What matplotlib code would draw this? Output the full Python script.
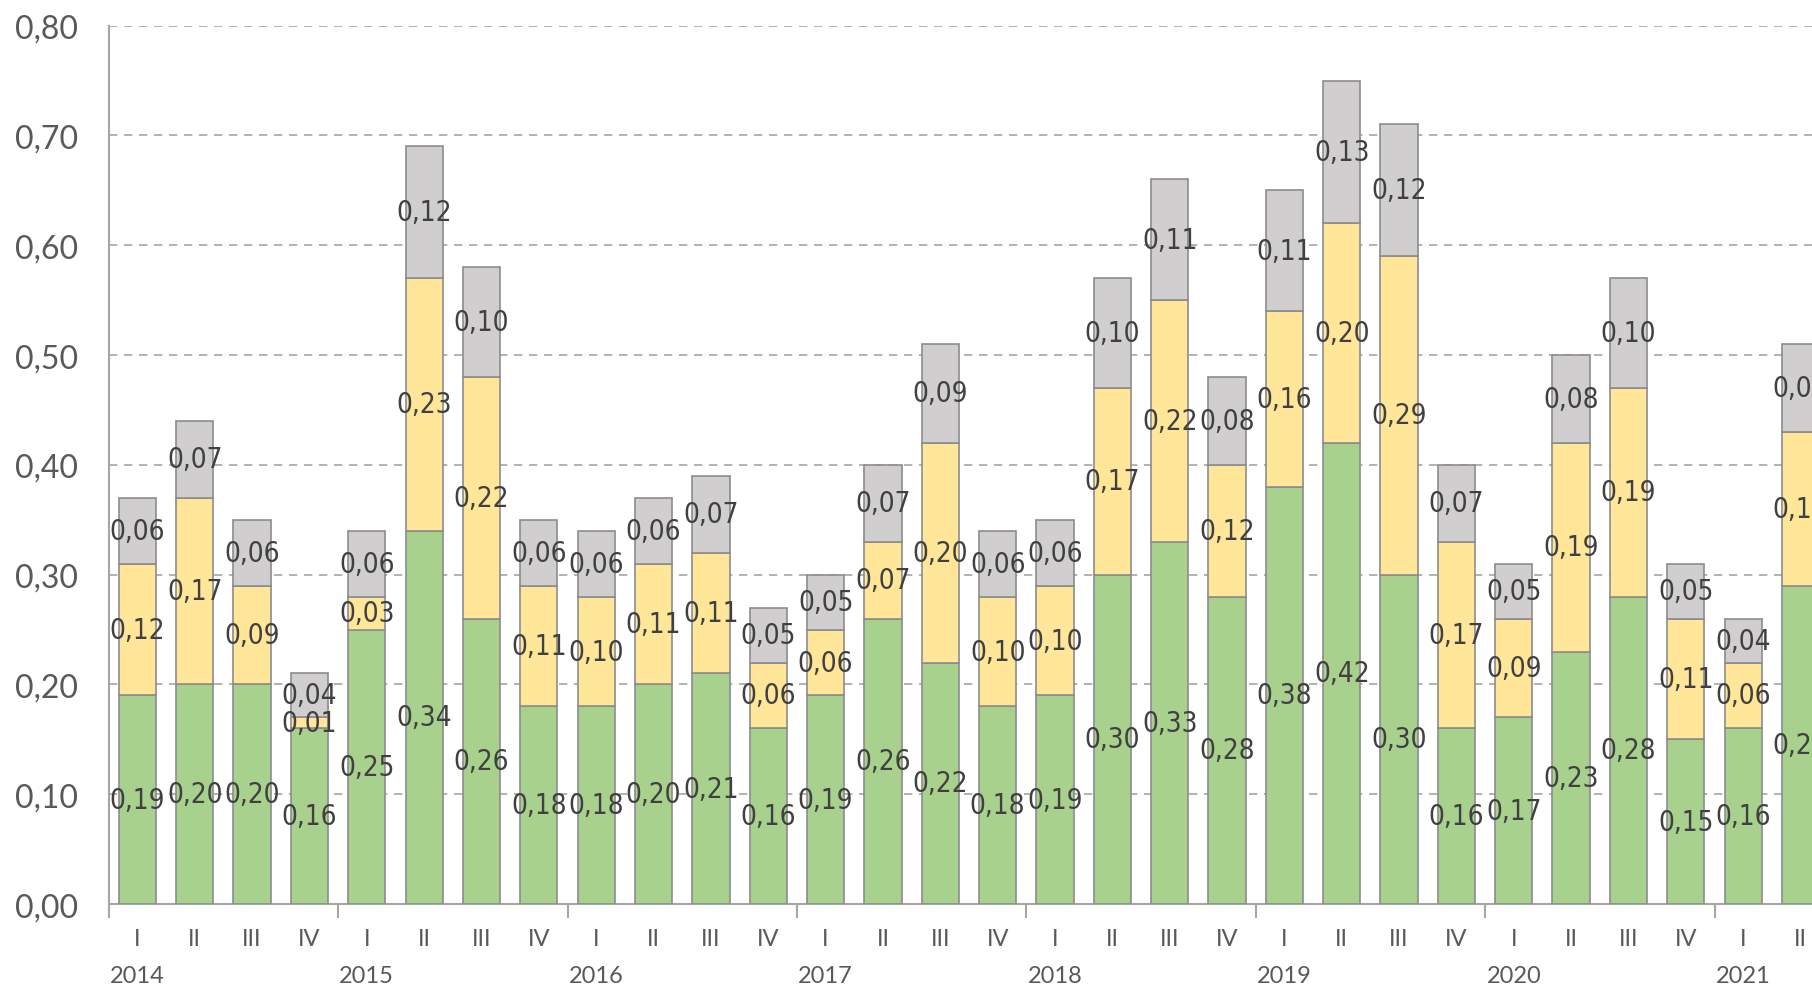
import matplotlib.pyplot as plt
from matplotlib.ticker import FuncFormatter
import numpy as np

years = ['2014', '2015', '2016', '2017', '2018', '2019', '2020', '2021']
quarters = ['I', 'II', 'III', 'IV'] * 7 + ['I', 'II']

green = [0.19, 0.20, 0.20, 0.16, 0.25, 0.34, 0.26, 0.18,
         0.18, 0.20, 0.21, 0.16, 0.19, 0.26, 0.22, 0.18,
         0.19, 0.30, 0.33, 0.28, 0.38, 0.42, 0.30, 0.16,
         0.17, 0.23, 0.28, 0.15, 0.16, 0.29]
yellow = [0.12, 0.17, 0.09, 0.01, 0.03, 0.23, 0.22, 0.11,
          0.10, 0.11, 0.11, 0.06, 0.06, 0.07, 0.20, 0.10,
          0.10, 0.17, 0.22, 0.12, 0.16, 0.20, 0.29, 0.17,
          0.09, 0.19, 0.19, 0.11, 0.06, 0.14]
grey = [0.06, 0.07, 0.06, 0.04, 0.06, 0.12, 0.10, 0.06,
        0.06, 0.06, 0.07, 0.05, 0.05, 0.07, 0.09, 0.06,
        0.06, 0.10, 0.11, 0.08, 0.11, 0.13, 0.12, 0.07,
        0.05, 0.08, 0.10, 0.05, 0.04, 0.08]

x = np.arange(len(green))
g = np.array(green)
y = np.array(yellow)
r = np.array(grey)

fig = plt.figure(figsize=(18.12, 9.87), dpi=100)
ax = fig.add_axes([0.06, 0.083, 0.94, 0.89])

edge = '#8c8c8c'
ax.bar(x, g, 0.65, color='#a9d18e', edgecolor=edge, linewidth=1.2, zorder=3)
ax.bar(x, y, 0.65, bottom=g, color='#ffe699', edgecolor=edge, linewidth=1.2, zorder=3)
ax.bar(x, r, 0.65, bottom=g + y, color='#d0cece', edgecolor=edge, linewidth=1.2, zorder=3)

# labels in the middle of every segment, condensed face like the original
lab_font = dict(family=['Liberation Sans Narrow', 'DejaVu Sans'], stretch='condensed',
                fontsize=20, color='#404040', ha='center', va='center', zorder=5)
for i in x:
    for val, base in ((g[i], 0), (y[i], g[i]), (r[i], g[i] + y[i])):
        ax.text(i, base + val / 2, f'{val:.2f}'.replace('.', ','), clip_on=True, **lab_font)

ax.set_ylim(0, 0.8)
ax.set_xlim(-0.5, 29.2)
ax.set_yticks(np.arange(0, 0.81, 0.1))
ax.yaxis.set_major_formatter(FuncFormatter(lambda v, p: f'{v:.2f}'.replace('.', ',')))
ax.tick_params(axis='y', length=0, pad=22, labelsize=23, labelcolor='#595959')
for lab in ax.get_yticklabels():
    lab.set_family('Lato')

ax.grid(axis='y', linestyle=(0, (5, 4)), color='#a6a6a6', linewidth=1.2, zorder=0)
for s in ['top', 'right']:
    ax.spines[s].set_visible(False)
for s in ['left', 'bottom']:
    ax.spines[s].set_color('#a6a6a6')
    ax.spines[s].set_linewidth(1.5)

# year separators
ax.set_xticks(np.arange(-0.5, 30, 4))
ax.set_xticklabels([])
ax.tick_params(axis='x', length=10, width=1.5, color='#a6a6a6')

trans = ax.get_xaxis_transform()
for i, q in zip(x, quarters):
    ax.text(i, -0.039, q, transform=trans, ha='center', va='center',
            fontsize=17, color='#595959', family='Lato', clip_on=False)
for k, yr in enumerate(years):
    ax.text(4 * k, -0.081, yr, transform=trans, ha='center', va='center',
            fontsize=17, color='#595959', family='Lato', clip_on=False)

fig.savefig('out.png', dpi=100)
